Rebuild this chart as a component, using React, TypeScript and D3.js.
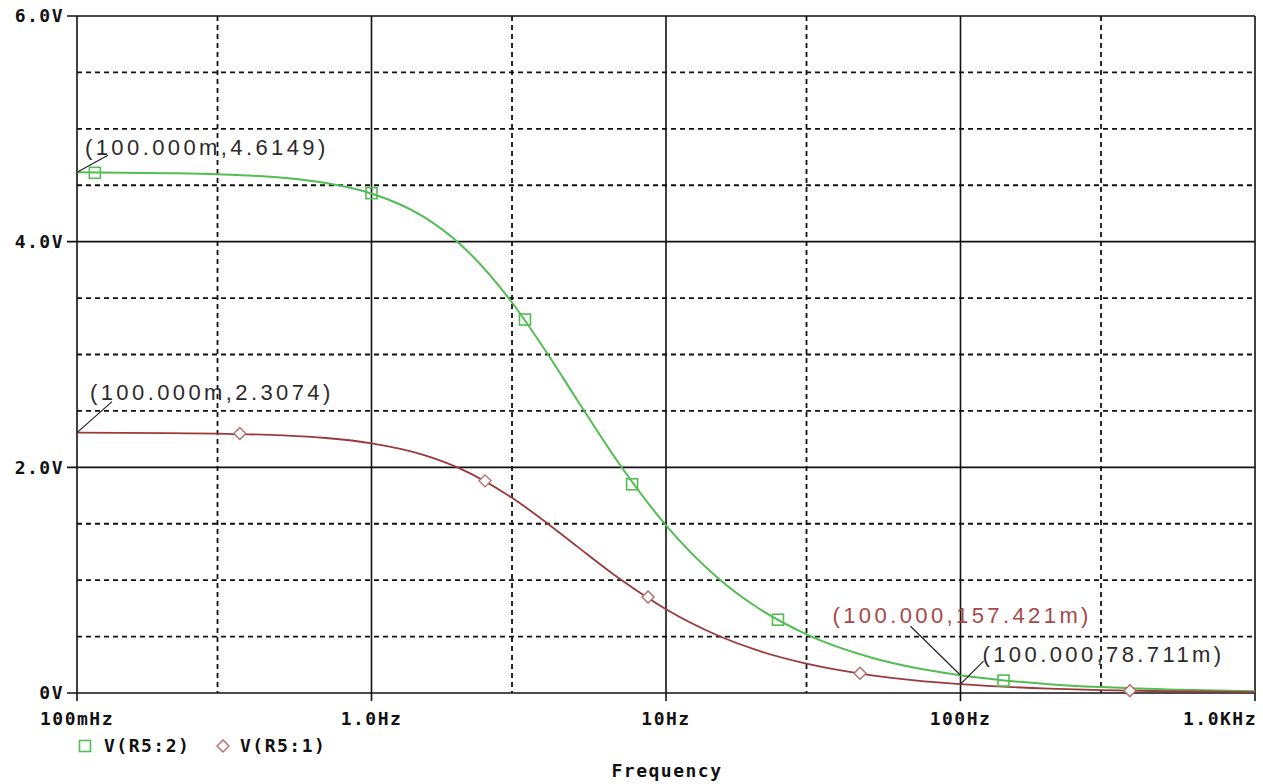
import React from "react";
import * as d3 from "d3";

// frequency points (Hz)
const freqs = [0.1, 0.2, 0.3, 0.5, 0.7, 1, 1.5, 2, 3, 4, 5, 7, 10, 15, 20, 30, 50, 70, 100, 200, 300, 500, 1000];
// V(R5:2) green trace
const vR52 = [4.6149, 4.607, 4.597, 4.566, 4.52, 4.427, 4.222, 3.978, 3.461, 2.989, 2.595, 2.016, 1.486, 1.02, 0.773, 0.52, 0.313, 0.224, 0.157421, 0.0785, 0.0523, 0.0314, 0.0157];
// V(R5:1) red trace
const vR51 = [2.3074, 2.303, 2.298, 2.283, 2.26, 2.213, 2.111, 1.989, 1.73, 1.494, 1.297, 1.008, 0.743, 0.51, 0.386, 0.26, 0.157, 0.112, 0.078711, 0.0393, 0.0262, 0.0157, 0.0079];

// marker positions
const markFreqR52 = [0.115, 1.0, 3.32, 7.67, 24.0, 140];
const markValR52 = [4.61, 4.43, 3.31, 1.85, 0.65, 0.11];
const markFreqR51 = [0.357, 2.43, 8.69, 45.6, 376];
const markValR51 = [2.3, 1.88, 0.85, 0.175, 0.02];

const xTickVals = [0.1, 1, 10, 100, 1000];
const xTickLabels = ["100mHz", "1.0Hz", "10Hz", "100Hz", "1.0KHz"];
const xDashVals = [0.3, 3, 30, 300];
const yTickVals = [0, 2, 4, 6];
const yTickLabels = ["0V", "2.0V", "4.0V", "6.0V"];
const yDashVals = [0.5, 1, 1.5, 2.5, 3, 3.5, 4.5, 5, 5.5];

const GREEN = "#52bd52";
const RED = "#9a3a3a";

const left = 77;
const right = 1255;
const top = 16;
const bottom = 693;

const monoFont = "'DejaVu Sans Mono', monospace";
const annFont = "'Liberation Sans', Arial, sans-serif";

export default function App() {
  const x = d3.scaleLog().domain([0.1, 1000]).range([left, right]);
  const y = d3.scaleLinear().domain([0, 6]).range([bottom, top]);

  const line = d3
    .line<number>()
    .x((_, i) => x(freqs[i]))
    .y((d) => y(d))
    .curve(d3.curveMonotoneX);

  const square = (cx: number, cy: number, key: string) => (
    <rect key={key} x={cx - 5.5} y={cy - 5.5} width={11} height={11} fill="none" stroke={GREEN} strokeWidth={1.6} />
  );
  const diamond = (cx: number, cy: number, key: string) => (
    <path
      key={key}
      d={`M${cx},${cy - 6}L${cx + 6},${cy}L${cx},${cy + 6}L${cx - 6},${cy}Z`}
      fill="white"
      stroke="#b86a6a"
      strokeWidth={1.4}
    />
  );

  // annotation points
  const anns = [
    { f: 0.1, v: 4.6149, text: "(100.000m,4.6149)", color: "#2b2b2b", tx: 8, ty: -17, lx: 31, ly: -17 },
    { f: 0.1, v: 2.3074, text: "(100.000m,2.3074)", color: "#2b2b2b", tx: 13, ty: -33, lx: 35, ly: -31 },
    { f: 100, v: 0.157421, text: "(100.000,157.421m)", color: "#a84848", tx: -128, ty: -52, lx: -50, ly: -49 },
    { f: 100, v: 0.078711, text: "(100.000,78.711m)", color: "#2b2b2b", tx: 22, ty: -22, lx: 23, ly: -23 },
  ];

  return (
    <svg
      width={1263}
      height={784}
      style={{ position: "absolute", left: 0, top: 0, background: "white" }}
    >
      {/* dashed grid */}
      <g stroke="#111" strokeWidth={1.8} strokeDasharray="5,4">
        {xDashVals.map((v) => (
          <line key={"xd" + v} x1={x(v)} x2={x(v)} y1={top} y2={bottom} />
        ))}
        {yDashVals.map((v) => (
          <line key={"yd" + v} x1={left} x2={right} y1={y(v)} y2={y(v)} />
        ))}
      </g>
      {/* solid grid + frame */}
      <g stroke="#111" strokeWidth={1.6}>
        {xTickVals.map((v) => (
          <line key={"xs" + v} x1={x(v)} x2={x(v)} y1={top} y2={bottom + 8} />
        ))}
        {yTickVals.map((v) => (
          <line key={"ys" + v} x1={left - 10} x2={right} y1={y(v)} y2={y(v)} />
        ))}
      </g>

      {/* traces */}
      <path d={line(vR52) || ""} fill="none" stroke={GREEN} strokeWidth={2} />
      <path d={line(vR51) || ""} fill="none" stroke={RED} strokeWidth={1.8} />

      {markFreqR52.map((f, i) => square(x(f), y(markValR52[i]), "g" + i))}
      {markFreqR51.map((f, i) => diamond(x(f), y(markValR51[i]), "r" + i))}

      {/* annotations */}
      {anns.map((a, i) => {
        const px = x(a.f);
        const py = y(a.v);
        return (
          <g key={"a" + i}>
            <line x1={px} y1={py} x2={px + a.lx} y2={py + a.ly} stroke="#222" strokeWidth={1.2} />
            <text
              x={px + a.tx}
              y={py + a.ty}
              fontFamily={annFont}
              fontSize={22}
              letterSpacing={3.4}
              fill={a.color}
            >
              {a.text}
            </text>
          </g>
        );
      })}

      {/* y tick labels */}
      {yTickVals.map((v, i) => (
        <text
          key={"yl" + v}
          x={64}
          y={y(v)}
          dy="0.36em"
          textAnchor="end"
          fontFamily={monoFont}
          fontWeight="bold"
          fontSize={18}
          letterSpacing={1.5}
          fill="#111"
        >
          {yTickLabels[i]}
        </text>
      ))}

      {/* x tick labels */}
      {xTickVals.map((v, i) => (
        <text
          key={"xl" + v}
          x={i === xTickVals.length - 1 ? x(v) + 2 : x(v)}
          y={725}
          textAnchor={i === xTickVals.length - 1 ? "end" : "middle"}
          fontFamily={monoFont}
          fontWeight="bold"
          fontSize={18}
          letterSpacing={1.5}
          fill="#111"
        >
          {xTickLabels[i]}
        </text>
      ))}

      {/* legend */}
      {square(85, 746, "lg")}
      <text x={104} y={752} fontFamily={monoFont} fontWeight="bold" fontSize={18} letterSpacing={1.5} fill="#111">
        V(R5:2)
      </text>
      {diamond(223, 746, "lr")}
      <text x={240} y={752} fontFamily={monoFont} fontWeight="bold" fontSize={18} letterSpacing={1.5} fill="#111">
        V(R5:1)
      </text>

      <text
        x={667}
        y={777}
        textAnchor="middle"
        fontFamily={monoFont}
        fontWeight="bold"
        fontSize={18}
        letterSpacing={1.5}
        fill="#111"
      >
        Frequency
      </text>
    </svg>
  );
}
